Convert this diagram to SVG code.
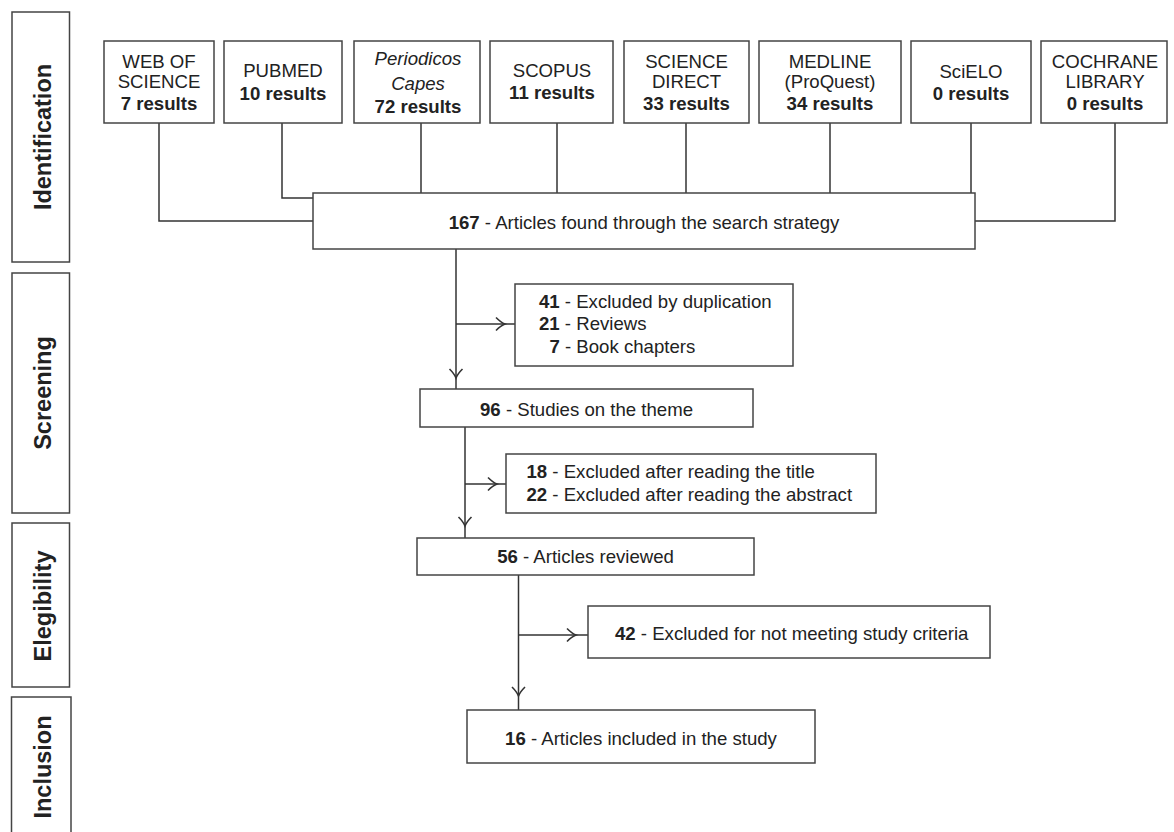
<svg xmlns="http://www.w3.org/2000/svg" xmlns:xlink="http://www.w3.org/1999/xlink" width="1174" height="832" viewBox="0 0 1174 832">
<style>
.box{fill:#fff;stroke:#444;stroke-width:1.5}
.ln{fill:none;stroke:#333;stroke-width:1.5}
.t{font-family:"Liberation Sans",Arial,sans-serif;font-size:18.6px;fill:#222}
.c{text-anchor:middle}
.b{font-weight:bold}
.i{font-style:italic}
.stage{font-family:"Liberation Sans",Arial,sans-serif;font-size:23.5px;font-weight:bold;fill:#222;text-anchor:middle}
</style>
<defs>
<path id="chev" d="M-9,-6.5 Q-4,-1.5 0,0 Q-4,1.5 -9,6.5" fill="none" stroke="#333" stroke-width="1.6"/>
</defs>
<rect width="1174" height="832" fill="#fff"/>

<g id="stage-identification"><rect class="box" x="12" y="12" width="57.5" height="250"/><text class="stage" transform="translate(51,137) rotate(-90)">Identification</text></g>
<g id="stage-screening"><rect class="box" x="12" y="273" width="57.5" height="240"/><text class="stage" transform="translate(51,393) rotate(-90)">Screening</text></g>
<g id="stage-elegibility"><rect class="box" x="12" y="523" width="57.5" height="164"/><text class="stage" transform="translate(51,606) rotate(-90)">Elegibility</text></g>
<g id="stage-inclusion"><rect class="box" x="11.5" y="697" width="59.5" height="145"/><text class="stage" transform="translate(51,767) rotate(-90)">Inclusion</text></g>

<g id="connectors">
<path class="ln" d="M159,123 V221 H313"/>
<path class="ln" d="M282,123 V198 H313"/>
<path class="ln" d="M421,123 V193"/>
<path class="ln" d="M557,123 V193"/>
<path class="ln" d="M686,123 V193"/>
<path class="ln" d="M830,123 V193"/>
<path class="ln" d="M971,123 V193"/>
<path class="ln" d="M1115,123 V221 H975"/>
<path class="ln" d="M456,249 V389"/>
<path class="ln" d="M456,324 H515"/>
<use xlink:href="#chev" transform="translate(505,324)"/>
<use xlink:href="#chev" transform="translate(456,378) rotate(90)"/>
<path class="ln" d="M465,427 V538"/>
<path class="ln" d="M465,484 H506"/>
<use xlink:href="#chev" transform="translate(497,484)"/>
<use xlink:href="#chev" transform="translate(465,526) rotate(90)"/>
<path class="ln" d="M518.5,575 V710"/>
<path class="ln" d="M518.5,635 H588"/>
<use xlink:href="#chev" transform="translate(576,635)"/>
<use xlink:href="#chev" transform="translate(518.5,696) rotate(90)"/>
</g>

<g id="src-wos"><rect class="box" x="104" y="41" width="110" height="82"/>
<text class="t c" x="159" y="68">WEB OF</text><text class="t c" x="159" y="88">SCIENCE</text><text class="t c b" x="159" y="110">7 results</text></g>
<g id="src-pubmed"><rect class="box" x="224" y="41" width="118" height="82"/>
<text class="t c" x="283" y="77">PUBMED</text><text class="t c b" x="283" y="100">10 results</text></g>
<g id="src-periodicos"><rect class="box" x="354" y="41" width="126" height="82"/>
<text class="t c i" x="418" y="65">Periodicos</text><text class="t c i" x="418" y="89.5">Capes</text><text class="t c b" x="418" y="113">72 results</text></g>
<g id="src-scopus"><rect class="box" x="490" y="41" width="123" height="82"/>
<text class="t c" x="552" y="77">SCOPUS</text><text class="t c b" x="552" y="99">11 results</text></g>
<g id="src-sciencedirect"><rect class="box" x="624" y="41" width="125" height="82"/>
<text class="t c" x="686.5" y="68">SCIENCE</text><text class="t c" x="686.5" y="88">DIRECT</text><text class="t c b" x="686.5" y="110">33 results</text></g>
<g id="src-medline"><rect class="box" x="759" y="41" width="142" height="82"/>
<text class="t c" x="830" y="68">MEDLINE</text><text class="t c" x="830" y="88">(ProQuest)</text><text class="t c b" x="830" y="110">34 results</text></g>
<g id="src-scielo"><rect class="box" x="911" y="41" width="120" height="82"/>
<text class="t c" x="971" y="78">SciELO</text><text class="t c b" x="971" y="100">0 results</text></g>
<g id="src-cochrane"><rect class="box" x="1041" y="41" width="126" height="82"/>
<text class="t c" x="1105" y="68">COCHRANE</text><text class="t c" x="1105" y="88">LIBRARY</text><text class="t c b" x="1105" y="110">0 results</text></g>

<g id="found"><rect class="box" x="313" y="193" width="662" height="56"/>
<text class="t c" x="644" y="229.3"><tspan class="b">167</tspan> - Articles found through the search strategy</text></g>

<g id="excluded1"><rect class="box" x="515" y="284" width="278" height="82"/>
<text class="t" x="539" y="307.5"><tspan class="b">41</tspan> - Excluded by duplication</text>
<text class="t" x="539" y="330"><tspan class="b">21</tspan> - Reviews</text>
<text class="t" x="549.5" y="353"><tspan class="b">7</tspan> - Book chapters</text></g>

<g id="studies"><rect class="box" x="420" y="389" width="333" height="38"/>
<text class="t c" x="586.5" y="415.7"><tspan class="b">96</tspan> - Studies on the theme</text></g>

<g id="excluded2"><rect class="box" x="506" y="454" width="370" height="59"/>
<text class="t" x="526.5" y="478.3"><tspan class="b">18</tspan> - Excluded after reading the title</text>
<text class="t" x="526.5" y="500.5"><tspan class="b">22</tspan> - Excluded after reading the abstract</text></g>

<g id="reviewed"><rect class="box" x="417" y="538" width="337" height="37"/>
<text class="t c" x="585.5" y="563.3"><tspan class="b">56</tspan> - Articles reviewed</text></g>

<g id="excluded3"><rect class="box" x="588" y="606" width="402" height="52"/>
<text class="t" x="615" y="640"><tspan class="b">42</tspan> - Excluded for not meeting study criteria</text></g>

<g id="included"><rect class="box" x="467" y="710" width="348" height="53"/>
<text class="t c" x="641" y="745"><tspan class="b">16</tspan> - Articles included in the study</text></g>
</svg>
